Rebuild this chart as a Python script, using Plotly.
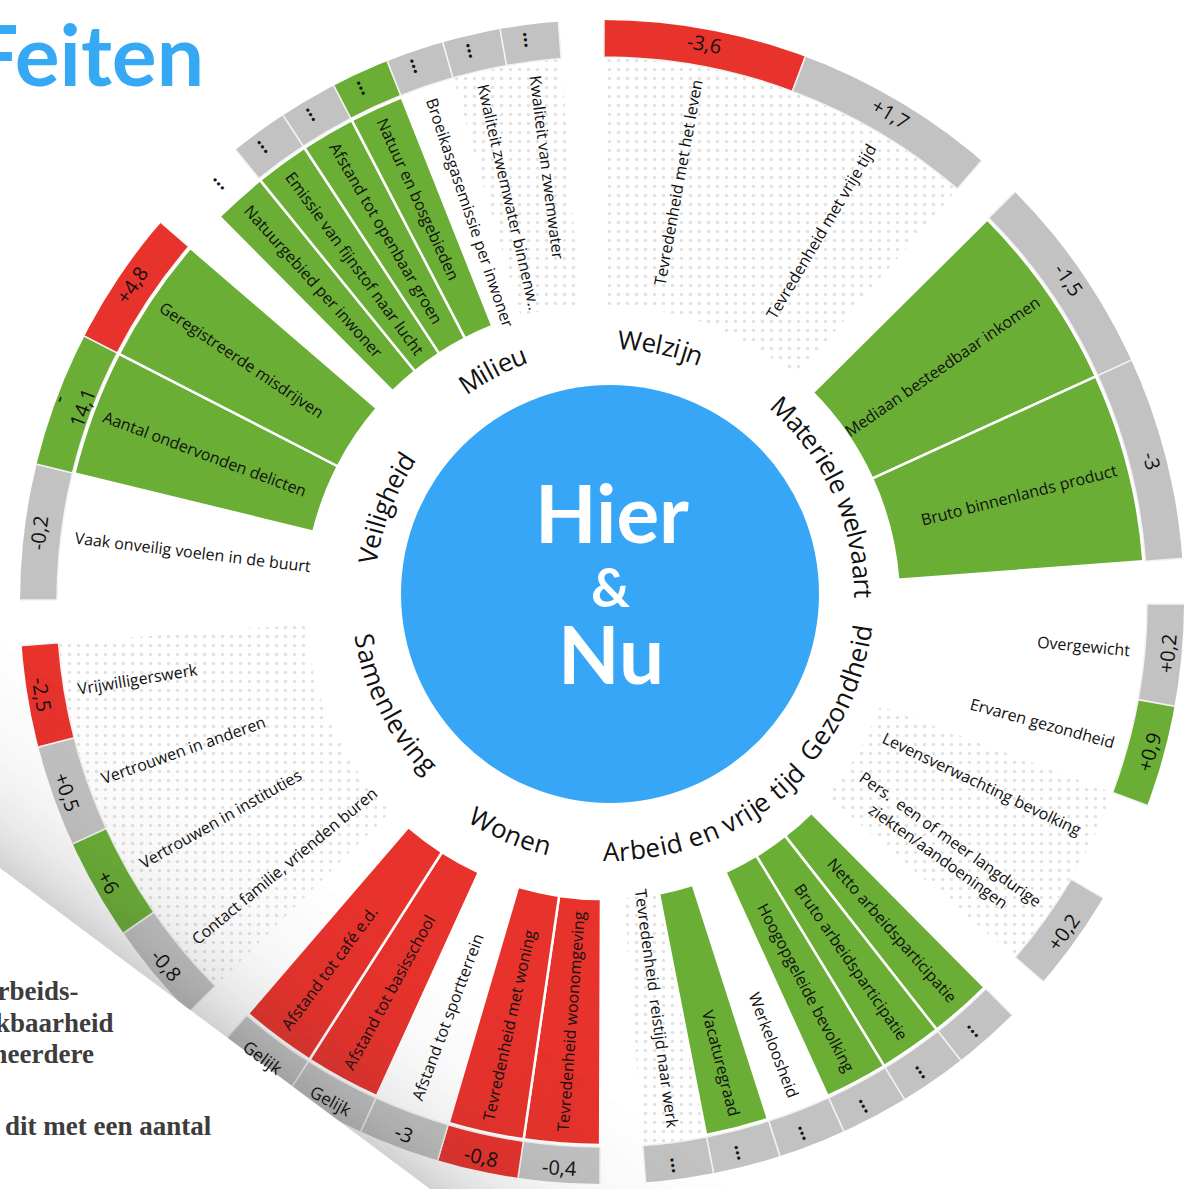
import math
import plotly.graph_objects as go

# ---------------- data ----------------
themes = ["Welzijn", "Materiele welvaart", "Gezondheid", "Arbeid en vrije tijd",
          "Wonen", "Samenleving", "Veiligheid", "Milieu"]

welzijn_items = ["Tevredenheid met het leven", "Tevredenheid met vrije tijd"]
welzijn_level = [None, None]
welzijn_change = ["-3,6", "+1,7"]
welzijn_change_level = ["worse", "neutral"]

materieel_items = ["Mediaan besteedbaar inkomen", "Bruto binnenlands product"]
materieel_level = ["better", "better"]
materieel_change = ["-1,5", "-3"]
materieel_change_level = ["neutral", "neutral"]

gezondheid_items = ["Overgewicht", "Ervaren gezondheid", "Levensverwachting bevolking",
                    "Pers.  een of meer langdurige<br>ziekten/aandoeningen"]
gezondheid_level = [None, None, None, None]
gezondheid_change = ["+0,2", "+0,9", "", "+0,2"]
gezondheid_change_level = ["neutral", "better", None, "neutral"]

arbeid_items = ["Netto arbeidsparticipatie", "Bruto arbeidsparticipatie", "Hoogopgeleide bevolking",
                "Werkeloosheid", "Vacaturegraad", "Tevredenheid  reistijd naar werk"]
arbeid_level = ["better", "better", "better", None, "better", None]
arbeid_change = ["...", "...", "...", "...", "...", "..."]
arbeid_change_level = ["neutral", "neutral", "neutral", "neutral", "neutral", "neutral"]

wonen_items = ["Tevredenheid woonomgeving", "Tevredenheid met woning", "Afstand tot sportterrein",
               "Afstand tot basisschool", "Afstand tot café e.d."]
wonen_level = ["worse", "worse", None, "worse", "worse"]
wonen_change = ["-0,4", "-0,8", "-3", "Gelijk", "Gelijk"]
wonen_change_level = ["neutral", "worse", "neutral", "neutral", "neutral"]

samenleving_items = ["Contact familie, vrienden buren", "Vertrouwen in instituties",
                     "Vertrouwen in anderen", "Vrijwilligerswerk"]
samenleving_level = [None, None, None, None]
samenleving_change = ["-0,8", "+6", "+0,5", "-2,5"]
samenleving_change_level = ["neutral", "better", "neutral", "worse"]

veiligheid_items = ["Vaak onveilig voelen in de buurt", "Aantal ondervonden delicten",
                    "Geregistreerde misdrijven"]
veiligheid_level = [None, "better", "better"]
veiligheid_change = ["-0,2", "-14,1", "+4,8"]
veiligheid_change_level = ["neutral", "better", "worse"]

milieu_items = ["Natuurgebied per inwoner", "Emissie van fijnstof naar lucht", "Afstand tot openbaar groen",
                "Natuur en bosgebieden", "Broeikasgasemissie per inwoner", "Kwaliteit zwemwater binnenw..",
                "Kwaliteit van zwemwater"]
milieu_level = ["better", "better", "better", "better", None, None, None]
milieu_change = ["...", "...", "...", "...", "...", "...", "..."]
milieu_change_level = [None, "neutral", "neutral", "better", "neutral", "neutral", "neutral"]

theme_items = [welzijn_items, materieel_items, gezondheid_items, arbeid_items,
               wonen_items, samenleving_items, veiligheid_items, milieu_items]
theme_level = [welzijn_level, materieel_level, gezondheid_level, arbeid_level,
               wonen_level, samenleving_level, veiligheid_level, milieu_level]
theme_change = [welzijn_change, materieel_change, gezondheid_change, arbeid_change,
                wonen_change, samenleving_change, veiligheid_change, milieu_change]
theme_change_level = [welzijn_change_level, materieel_change_level, gezondheid_change_level,
                      arbeid_change_level, wonen_change_level, samenleving_change_level,
                      veiligheid_change_level, milieu_change_level]

# items drawn with the halftone dot texture (theme index, item index)
dotted = {(0, 0), (0, 1), (2, 2), (2, 3), (3, 5), (5, 0), (5, 1), (5, 2), (5, 3), (7, 5), (7, 6)}

# ---------------- styling / geometry ----------------
GREEN, RED, GREY = "#6aae35", "#e8322c", "#c2c2c2"
BLUE = "#37a6f6"
level_color = {"better": GREEN, "worse": RED, "neutral": GREY}

W, H = 1184, 1189
CX, CY, RPX = 602.0, 602.0, 582.0
RMAX = 582.0          # ring runs to 590 and is clipped by the polar edge, like the cropped page
SC = RPX / RMAX
BX, BY, BR = 610.0, 594.0, 209.0

SECTOR_STEP, SECTOR_START, SECTOR_SPAN = 45.0, 0.2, 40.5
R_IN, R_BAR_OUT, R_RING_IN, R_RING_OUT = 297.0, 543.0, 545.0, 590.0
R_LABEL_END = 531.0
LABEL_FS = 16
SECTOR_FS = 26

CW = {' ': .26, 'a': .556, 'b': .613, 'c': .476, 'd': .613, 'e': .561, 'f': .339, 'g': .548,
      'h': .614, 'i': .253, 'j': .253, 'k': .525, 'l': .253, 'm': .93, 'n': .614, 'o': .604,
      'p': .613, 'q': .613, 'r': .408, 's': .477, 't': .353, 'u': .614, 'v': .501, 'w': .778,
      'x': .524, 'y': .502, 'z': .477, 'é': .561, 'A': .633, 'B': .648, 'C': .631, 'D': .729,
      'E': .556, 'G': .728, 'H': .738, 'K': .6, 'M': .903, 'N': .76, 'O': .781, 'P': .613,
      'S': .549, 'T': .561, 'V': .606, 'W': .928, ',': .245, '.': .266, '-': .322, '/': .367,
      '+': .572}


def text_width(s, size):
    return max(sum(CW.get(c, 0.572) for c in line) for line in s.split("<br>")) * size


def to_paper(px, py):
    return px / W, 1 - py / H


def ring_point(theta, r):
    t = math.radians(theta)
    return to_paper(CX + r * SC * math.sin(t), CY - r * SC * math.cos(t))


def norm(a):
    while a > 180:
        a -= 360
    while a <= -180:
        a += 360
    return a


def radial_angle(theta):
    return norm(theta - 90 if theta < 180 else theta - 270)


def tangent_angle(theta):
    return norm(theta if (theta <= 90 or theta >= 270) else theta - 180)


# ---------------- build marks ----------------
dot_t, dot_w = [], []
bar_t, bar_w, bar_c = [], [], []
ring_t, ring_w, ring_c = [], [], []
annotations = []

for s, theme in enumerate(themes):
    items = theme_items[s]
    n = len(items)
    w = SECTOR_SPAN / n
    for i, name in enumerate(items):
        th = s * SECTOR_STEP + SECTOR_START + (i + 0.5) * w
        if (s, i) in dotted:
            dot_t.append(th); dot_w.append(w)
        lv = theme_level[s][i]
        if lv is not None:
            bar_t.append(th); bar_w.append(w); bar_c.append(level_color[lv])
        clv = theme_change_level[s][i]
        if clv is not None:
            ring_t.append(th); ring_w.append(w); ring_c.append(level_color[clv])
        # indicator label (radial)
        tw = text_width(name, LABEL_FS)
        x, y = ring_point(th, R_LABEL_END - tw / 2)
        annotations.append(dict(x=x, y=y, xref="paper", yref="paper", text=name, showarrow=False,
                                textangle=radial_angle(th), xanchor="center", yanchor="middle",
                                font=dict(size=LABEL_FS, color="#111111", family="Open Sans")))
        # change value in ring
        ch = theme_change[s][i]
        if ch:
            x, y = ring_point(th, (R_RING_IN + R_RING_OUT) / 2)
            if ch == "...":
                annotations.append(dict(x=x, y=y, xref="paper", yref="paper", text="...",
                                        showarrow=False, textangle=radial_angle(th),
                                        xanchor="center", yanchor="middle",
                                        font=dict(size=19, color="#111111", family="Open Sans",
                                                  weight="bold")))
            else:
                txt = ch if len(ch) <= 4 or ch == "Gelijk" else ch[0] + "<br>" + ch[1:]
                fs = 17 if ch == "Gelijk" else 20
                annotations.append(dict(x=x, y=y, xref="paper", yref="paper", text=txt,
                                        showarrow=False, textangle=tangent_angle(th),
                                        xanchor="center", yanchor="middle",
                                        font=dict(size=fs, color="#111111", family="Open Sans")))

fig = go.Figure()
fig.add_trace(go.Barpolar(
    theta=dot_t, width=dot_w, base=[R_IN] * len(dot_t), r=[R_RING_IN - R_IN] * len(dot_t),
    marker=dict(color="rgba(255,255,255,0)", line=dict(width=0),
                pattern=dict(shape=".", fgcolor="#c6c6c6", bgcolor="rgba(255,255,255,0)",
                             size=9, solidity=0.12)),
    hoverinfo="skip", showlegend=False))
fig.add_trace(go.Barpolar(
    theta=bar_t, width=bar_w, base=[R_IN] * len(bar_t), r=[R_BAR_OUT - R_IN] * len(bar_t),
    marker=dict(color=bar_c, line=dict(color="white", width=2.5)),
    hoverinfo="skip", showlegend=False))
fig.add_trace(go.Barpolar(
    theta=ring_t, width=ring_w, base=[R_RING_IN] * len(ring_t),
    r=[R_RING_OUT - R_RING_IN] * len(ring_t),
    marker=dict(color=ring_c, line=dict(color="#f2f2f2", width=1.5)),
    hoverinfo="skip", showlegend=False))

# ---------------- curved theme labels around the blue disc ----------------
theme_label_pos = {  # centre angle (deg, clockwise from north), radius px, tops outward?
    "Welzijn": (11.5, 255, True),
    "Materiele welvaart": (65.7, 254, True),
    "Gezondheid": (113.5, 254, False),
    "Arbeid en vrije tijd": (157.0, 257, False),
    "Wonen": (202.7, 259, False),
    "Samenleving": (243.0, 249, False),
    "Veiligheid": (291.0, 245, True),
    "Milieu": (332.4, 255, True),
}
for theme in themes:
    thc, r, outward = theme_label_pos[theme]
    widths = [CW.get(c, 0.572) * SECTOR_FS for c in theme]
    total = sum(widths)
    pos = -total / 2
    for c, cw in zip(theme, widths):
        mid = pos + cw / 2
        pos += cw
        if c == " ":
            continue
        d = math.degrees(mid / r)
        th = thc + d if outward else thc - d
        t = math.radians(th)
        x, y = to_paper(BX + r * math.sin(t), BY - r * math.cos(t))
        rot = norm(th if outward else th - 180)
        annotations.append(dict(x=x, y=y, xref="paper", yref="paper", text=c, showarrow=False,
                                textangle=rot, xanchor="center", yanchor="middle",
                                font=dict(size=SECTOR_FS, color="#111111", family="Open Sans")))

# ---------------- centre title & page texts ----------------
for txt, px, py, fs in [("Hier", 612, 512, 80), ("&", 610, 586, 54), ("Nu", 611, 653, 80)]:
    x, y = to_paper(px, py)
    annotations.append(dict(x=x, y=y, xref="paper", yref="paper", text=txt, showarrow=False,
                            xanchor="center", yanchor="middle",
                            font=dict(size=fs, color="white", family="Lato", weight="bold")))

x, y = to_paper(206, 54)
annotations.append(dict(x=x, y=y, xref="paper", yref="paper", text="Feiten", showarrow=False,
                        xanchor="right", yanchor="middle",
                        font=dict(size=84, color="#36a9f5", family="Lato", weight="bold")))

for txt, px, py in [("arbeids-", 81, 991), ("kbaarheid", 116, 1023), ("meerdere", 96, 1054),
                    ("dit met een aantal", 214, 1126)]:
    x, y = to_paper(px, py)
    annotations.append(dict(x=x, y=y, xref="paper", yref="paper", text=txt, showarrow=False,
                            xanchor="right", yanchor="middle",
                            font=dict(size=27, color="#3d3d3d", family="Liberation Serif",
                                      weight="bold")))

# ---------------- shapes: disc, page edge and its shadow ----------------
shapes = []
x0, y1 = to_paper(BX - BR, BY - BR)
x1, y0 = to_paper(BX + BR, BY + BR)
shapes.append(dict(type="circle", xref="paper", yref="paper", x0=x0, y0=y0, x1=x1, y1=y1,
                   fillcolor=BLUE, line=dict(width=0), layer="below"))

P0 = (0.0, 868.0)
L = math.hypot(430, 321)
u = (430 / L, 321 / L)
nrm = (321 / L, -430 / L)  # towards the chart page


def pt(a, d):
    return (P0[0] + a * u[0] + d * nrm[0], P0[1] + a * u[1] + d * nrm[1])


def path(pts):
    pp = [to_paper(*p) for p in pts]
    return "M " + " L ".join(f"{a:.5f},{b:.5f}" for a, b in pp) + " Z"


shapes.append(dict(type="path", xref="paper", yref="paper", layer="above",
                   path=path([pt(-300, 0), pt(1000, 0), pt(1000, -700), pt(-300, -700)]),
                   fillcolor="white", line=dict(width=0)))
step = 5
for k in range(36):
    d0, d1 = k * step, (k + 1) * step
    a = 0.24 * math.exp(-(d0 + step / 2) / 55)
    shapes.append(dict(type="path", xref="paper", yref="paper", layer="above",
                       path=path([pt(-300, d0), pt(1000, d0), pt(1000, d1), pt(-300, d1)]),
                       fillcolor=f"rgba(60,60,60,{a:.4f})", line=dict(width=0)))

fig.update_layout(
    width=W, height=H, autosize=False,
    margin=dict(l=0, r=0, t=0, b=0),
    paper_bgcolor="white", plot_bgcolor="white",
    font=dict(family="Open Sans"),
    showlegend=False,
    polar=dict(
        domain=dict(x=[(CX - RPX) / W, (CX + RPX) / W], y=[1 - (CY + RPX) / H, 1 - (CY - RPX) / H]),
        bgcolor="rgba(0,0,0,0)", barmode="overlay", hole=0,
        radialaxis=dict(range=[0, RMAX], visible=False),
        angularaxis=dict(rotation=90, direction="clockwise", visible=False),
    ),
    annotations=annotations,
    shapes=shapes,
)

fig.write_html("out.html", config={"displayModeBar": False},
               post_script="document.body.style.margin='0px';")
